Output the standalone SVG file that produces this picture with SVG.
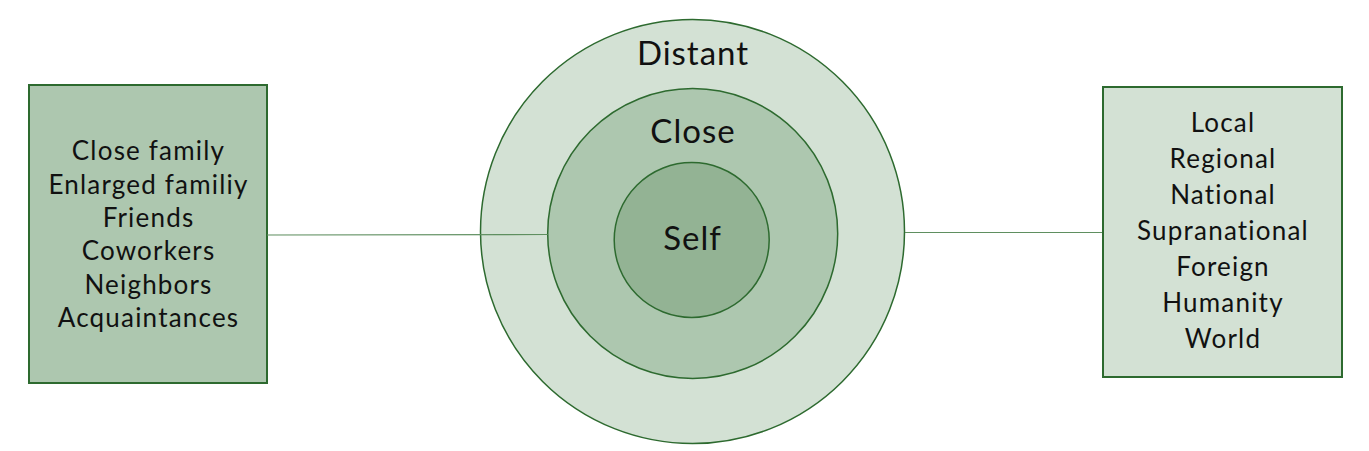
<svg xmlns="http://www.w3.org/2000/svg" width="1369" height="451" viewBox="0 0 1369 451">
<style>
text{font-family:Lato,"Liberation Sans",sans-serif;fill:#111;text-anchor:middle}
.box{stroke:#2d6a2f;stroke-width:2}
.ring{stroke:#2d6a2f;stroke-width:1.5}
.lbl{font-size:26px;letter-spacing:1.2px}
.big{font-size:33px;letter-spacing:1px}
.conn{stroke:#5f8f60;stroke-width:1.2;fill:none}
</style>
<rect width="1369" height="451" fill="#fff"/>
<g id="distant">
<circle class="ring" cx="692.5" cy="231.5" r="212" fill="#d3e1d4"/>
<text class="big" x="693" y="65">Distant</text>
</g>
<g id="close">
<circle class="ring" cx="692.7" cy="233.5" r="145" fill="#adc7af"/>
<text class="big" x="693" y="143">Close</text>
</g>
<g id="self">
<circle class="ring" cx="691.7" cy="240" r="77.5" fill="#93b394"/>
<text class="big" x="692.5" y="250">Self</text>
</g>
<g id="left-box">
<rect class="box" x="29" y="85" width="238" height="298" fill="#adc7af"/>
<text class="lbl" x="148.5" y="160">Close family</text>
<text class="lbl" x="148.5" y="193.5">Enlarged familiy</text>
<text class="lbl" x="148.5" y="227">Friends</text>
<text class="lbl" x="148.5" y="260">Coworkers</text>
<text class="lbl" x="148.5" y="293.5">Neighbors</text>
<text class="lbl" x="148.5" y="327">Acquaintances</text>
</g>
<g id="right-box">
<rect class="box" x="1103" y="87" width="239" height="290" fill="#d3e1d4"/>
<text class="lbl" x="1223" y="131.5">Local</text>
<text class="lbl" x="1223" y="167.5">Regional</text>
<text class="lbl" x="1223" y="203.5">National</text>
<text class="lbl" x="1223" y="239.5">Supranational</text>
<text class="lbl" x="1223" y="275.5">Foreign</text>
<text class="lbl" x="1223" y="311.5">Humanity</text>
<text class="lbl" x="1223" y="347.5">World</text>
</g>
<g id="connectors">
<line class="conn" x1="267" y1="235" x2="547.7" y2="234.5"/>
<line class="conn" x1="905" y1="232.5" x2="1102" y2="232.5"/>
</g>
</svg>
